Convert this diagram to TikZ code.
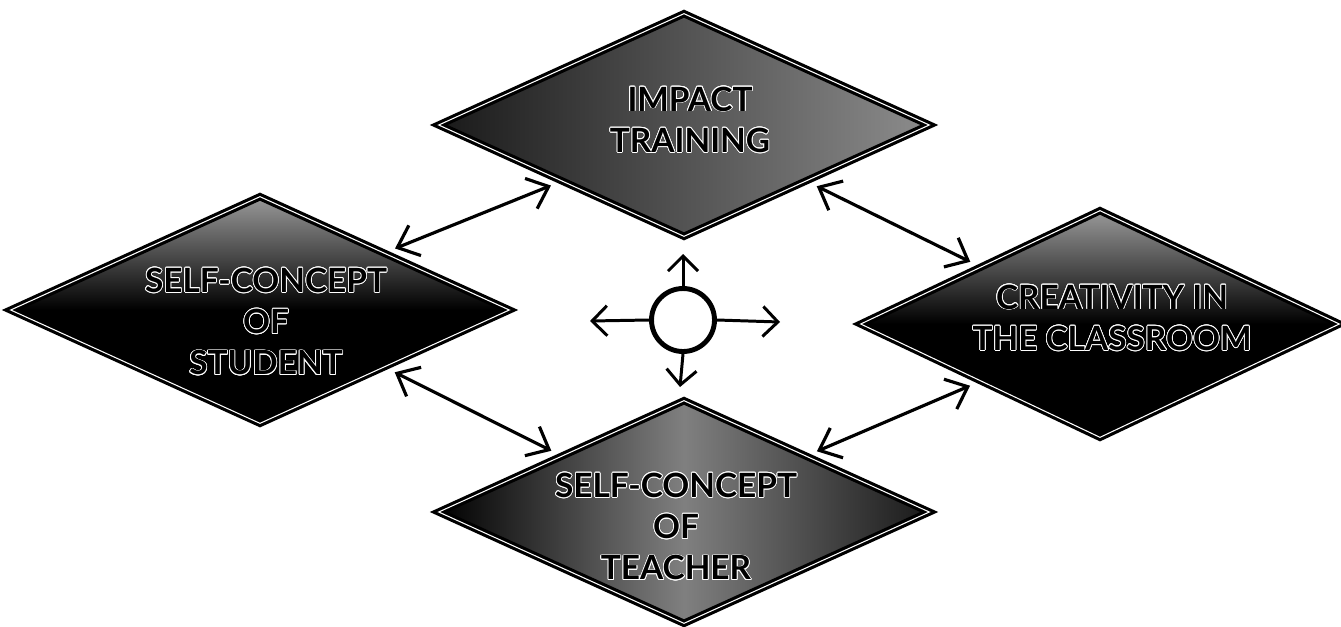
\documentclass[tikz,border=0pt]{standalone}
\usepackage{fontspec}
\setmainfont{Lato}
\usepackage[copies]{contour}
\usetikzlibrary{shapes.geometric,arrows.meta}
\contourlength{0.45pt}
\newcommand{\hollow}[1]{\contour{white}{#1}}

\tikzset{
  block/.style={diamond, fill=black, draw=black, double=white, double distance=0.6pt,
    line width=1.8pt, inner sep=0pt, minimum width=9.84cm, minimum height=4.48cm},
  speckle/.style={path picture={\shade[#1] (path picture bounding box.south west)
    rectangle (path picture bounding box.north east);}},
  caption/.style={align=center, inner sep=0pt, font=\bfseries\fontsize{19}{23.5}\selectfont},
  link/.style={{Straight Barb[length=0.38cm,width=0.65cm]}-{Straight Barb[length=0.38cm,width=0.65cm]},
    line width=1.8pt, shorten >=0.2cm, shorten <=0.2cm},
  spoke/.style={-{Straight Barb[length=0.3cm,width=0.6cm]}, line width=1.7pt},
}

\begin{document}
\begin{tikzpicture}[x=0.02cm, y=-0.02cm]
    \useasboundingbox (0,0) rectangle (1341,626);

    % Four diamonds
    \node[block, speckle={left color=black!90, right color=black!45}] (impact) at (684,125) {};
    \node[block, minimum width=10cm, minimum height=4.56cm,
          speckle={top color=black!40, bottom color=black, middle color=black}] (student) at (260,310) {};
    \node[block, minimum width=9.6cm, minimum height=4.56cm,
          speckle={top color=black!40, bottom color=black, middle color=black}] (creativity) at (1100,324) {};
    \node[block, speckle={left color=black, right color=black!90, middle color=black!50}] (teacher) at (684,512) {};

    % Labels
    \node[caption] (impactText) at (690,120) {\hollow{IMPACT}\\\hollow{TRAINING}};
    \node[caption] (studentText) at (266,322) {\hollow{SELF-CONCEPT}\\\hollow{OF}\\\hollow{STUDENT}};
    \node[caption] (creativityText) at (1112,318) {\hollow{CREATIVITY IN}\\\hollow{THE CLASSROOM}};
    \node[caption] (teacherText) at (676,527) {\hollow{SELF-CONCEPT}\\\hollow{OF}\\\hollow{TEACHER}};

    % Links between diamonds
    \draw[link] (student.north east) -- (impact.south west);
    \draw[link] (impact.south east) -- (creativity.north west);
    \draw[link] (student.south east) -- (teacher.north west);
    \draw[link] (teacher.north east) -- (creativity.south west);

    % Central hub
    \node[circle, draw, line width=2.8pt, minimum size=1.26cm, inner sep=0pt] (hub) at (683,320) {};
    \coordinate (hubN) at (683,254);
    \coordinate (hubS) at (680,387);
    \coordinate (hubW) at (590,321);
    \coordinate (hubE) at (780,322);
    \draw[spoke] (hub.north) -- (hubN);
    \draw[spoke] (hub.south) -- (hubS);
    \draw[spoke] (hub.west) -- (hubW);
    \draw[spoke] (hub.east) -- (hubE);
\end{tikzpicture}
\end{document}
